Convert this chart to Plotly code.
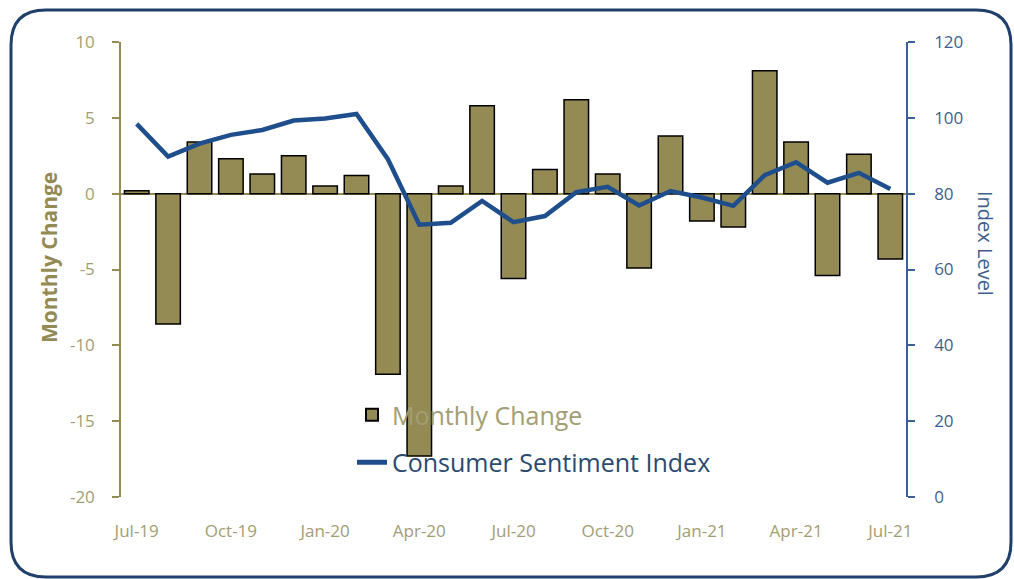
import plotly.graph_objects as go

months = ["Jul-19", "Aug-19", "Sep-19", "Oct-19", "Nov-19", "Dec-19",
          "Jan-20", "Feb-20", "Mar-20", "Apr-20", "May-20", "Jun-20",
          "Jul-20", "Aug-20", "Sep-20", "Oct-20", "Nov-20", "Dec-20",
          "Jan-21", "Feb-21", "Mar-21", "Apr-21", "May-21", "Jun-21", "Jul-21"]
monthly_change = [0.2, -8.6, 3.4, 2.3, 1.3, 2.5,
                  0.5, 1.2, -11.9, -17.3, 0.5, 5.8,
                  -5.6, 1.6, 6.2, 1.3, -4.9, 3.8,
                  -1.8, -2.2, 8.1, 3.4, -5.4, 2.6, -4.3]
sentiment_index = [98.4, 89.8, 93.2, 95.5, 96.8, 99.3,
                   99.8, 101.0, 89.1, 71.8, 72.3, 78.1,
                   72.5, 74.1, 80.4, 81.8, 76.9, 80.7,
                   79.0, 76.8, 84.9, 88.3, 82.9, 85.5, 81.2]
tick_labels = months[::3]
left_ticks = [-20, -15, -10, -5, 0, 5, 10]
left_tick_text = ["-20", "-15", "-10", "-5", "0", "5", "10"]

OLIVE = "#948A54"
OLIVE_TXT = "#A39D74"
NAVY = "#1F4E8C"
NAVY_AX = "#3C6096"
NAVY_TXT = "#3E5F8E"
LEGEND_NAVY = "#2B4A6F"
FONT = "Open Sans"

W, H = 1014, 579
L, R, T, B = 121, 906, 42, 497


def X(px):
    return (px - L) / (R - L)


def Y(py):
    return (B - py) / (B - T)


fig = go.Figure()
fig.add_trace(go.Bar(
    x=months, y=monthly_change, name="Monthly Change", legendgroup="a",
    marker=dict(color=OLIVE, line=dict(color="#000000", width=1.5)),
    yaxis="y",
))
fig.add_trace(go.Scatter(
    x=months, y=sentiment_index,
    name=f"<span style='color:{LEGEND_NAVY}'>Consumer Sentiment Index</span>",
    legendgroup="b",
    mode="lines", line=dict(color=NAVY, width=4.5),
    yaxis="y2",
))

# rounded border
bx0, bx1, by0, by1, r = 11, 1011, 10, 577, 35
path = (f"M {X(bx0+r)},{Y(by0)} L {X(bx1-r)},{Y(by0)} "
        f"Q {X(bx1)},{Y(by0)} {X(bx1)},{Y(by0+r)} "
        f"L {X(bx1)},{Y(by1-r)} Q {X(bx1)},{Y(by1)} {X(bx1-r)},{Y(by1)} "
        f"L {X(bx0+r)},{Y(by1)} Q {X(bx0)},{Y(by1)} {X(bx0)},{Y(by1-r)} "
        f"L {X(bx0)},{Y(by0+r)} Q {X(bx0)},{Y(by0)} {X(bx0+r)},{Y(by0)} Z")

fig.update_layout(
    width=W, height=H,
    margin=dict(l=L, r=W - R, t=T, b=H - B, pad=0),
    paper_bgcolor="white", plot_bgcolor="white",
    font=dict(family=FONT, size=17, color=OLIVE_TXT),
    bargap=0.22,
    showlegend=True,
    legend=dict(
        x=X(352), y=Y(392), xanchor="left", yanchor="top",
        bgcolor="rgba(0,0,0,0)", font=dict(family=FONT, size=25, color=OLIVE_TXT),
        tracegroupgap=12, itemsizing="constant",
    ),
    xaxis=dict(
        type="category", tickmode="array", tickvals=tick_labels, ticktext=tick_labels,
        showgrid=False, showline=False, ticks="", automargin=False,
        tickfont=dict(size=17, color=OLIVE_TXT), ticklabelstandoff=22,
    ),
    yaxis=dict(
        range=[-20, 10], tickmode="array", tickvals=left_ticks, ticktext=left_tick_text,
        showgrid=False, automargin=False,
        showline=True, linecolor=OLIVE, linewidth=1.5,
        ticks="outside", ticklen=7, tickcolor=OLIVE, tickwidth=1.5,
        zeroline=True, zerolinecolor=OLIVE, zerolinewidth=1.5,
        tickfont=dict(size=17, color=OLIVE_TXT), ticklabelstandoff=14,
    ),
    yaxis2=dict(
        range=[0, 120], dtick=20, overlaying="y", side="right",
        showgrid=False, zeroline=False, automargin=False,
        showline=True, linecolor=NAVY_AX, linewidth=1.5,
        ticks="outside", ticklen=7, tickcolor=NAVY_AX, tickwidth=1.5,
        tickfont=dict(size=17, color=NAVY_TXT), ticklabelstandoff=16,
    ),
    shapes=[dict(type="path", xref="paper", yref="paper", path=path,
                 line=dict(color="#203F6A", width=3), fillcolor="rgba(0,0,0,0)",
                 layer="above")],
    annotations=[
        dict(text="<b>Monthly Change</b>", xref="paper", yref="paper",
             x=X(49), y=Y(258), xanchor="center", yanchor="middle",
             textangle=-90, showarrow=False,
             font=dict(family=FONT, size=21, color=OLIVE)),
        dict(text="Index Level", xref="paper", yref="paper",
             x=X(986), y=Y(243), xanchor="center", yanchor="middle",
             textangle=90, showarrow=False,
             font=dict(family=FONT, size=20, color=NAVY_TXT)),
    ],
)

fig.write_html("out.html", config={"displayModeBar": False},
               post_script="document.body.style.margin='0';")
